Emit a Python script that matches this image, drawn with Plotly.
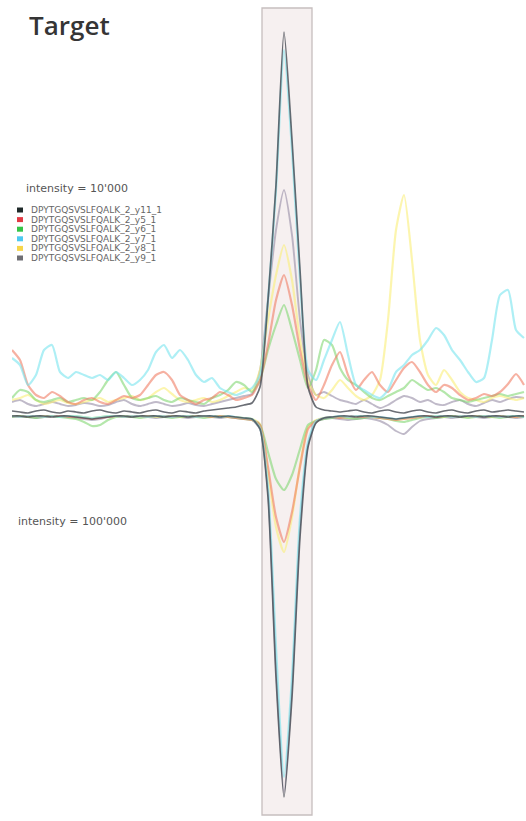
import plotly.graph_objects as go

W, H = 526, 821

# Retention time axis (min), one scan every 0.1 min
rt = [round(21.0 + 0.1 * k, 1) for k in range(65)]

# Peak integration window (min)
window = (24.125, 24.75)

# Transition labels
transitions = [
    "DPYTGQSVSLFQALK_2_y11_1",
    "DPYTGQSVSLFQALK_2_y5_1",
    "DPYTGQSVSLFQALK_2_y6_1",
    "DPYTGQSVSLFQALK_2_y7_1",
    "DPYTGQSVSLFQALK_2_y8_1",
    "DPYTGQSVSLFQALK_2_y9_1",
]

# Target chromatograms (upper panel, scale 10'000)
target_y11 = [100, 75, 50, 100, 125, 75, 50, 100, 75, 50,
              100, 125, 75, 50, 100, 75, 50, 100, 125, 75,
              50, 100, 75, 50, 100, 125, 150, 175, 200, 250,
              300, 700, 2875, 5750, 9575, 6875, 3625, 700, 200, 125,
              100, 75, 100, 125, 75, 50, 100, 125, 75, 50,
              100, 125, 75, 50, 100, 125, 75, 50, 100, 125,
              75, 100, 125, 100, 75]
target_y5 = [1625, 1375, 750, 500, 425, 575, 475, 325, 275, 375,
             425, 325, 275, 375, 475, 425, 500, 750, 1000, 1075,
             875, 500, 375, 275, 375, 425, 575, 500, 375, 425,
             500, 875, 1750, 2875, 3500, 2750, 1625, 750, 375, 750,
             1250, 1575, 1000, 625, 875, 1075, 750, 575, 875, 1175,
             1325, 1075, 750, 575, 750, 675, 500, 375, 425, 525,
             475, 575, 775, 1025, 750]
target_y6 = [425, 625, 575, 375, 325, 375, 425, 325, 375, 425,
             375, 575, 875, 1075, 750, 425, 375, 425, 475, 375,
             325, 425, 375, 325, 275, 425, 500, 625, 825, 750,
             575, 875, 1625, 2250, 2750, 2125, 1375, 675, 1125, 1875,
             1750, 1175, 875, 750, 575, 425, 375, 475, 575, 675,
             875, 750, 625, 675, 575, 425, 375, 325, 375, 425,
             475, 525, 475, 525, 575]
target_y7 = [1425, 1250, 750, 1000, 1625, 1750, 1075, 925, 1075, 1000,
             925, 1000, 875, 1075, 925, 750, 875, 1125, 1575, 1750,
             1425, 1625, 1375, 1000, 825, 925, 675, 575, 500, 575,
             675, 1000, 2875, 5625, 9125, 6625, 3375, 1125, 875, 1375,
             1875, 2325, 1500, 750, 625, 500, 425, 625, 1075, 1250,
             1500, 1625, 1875, 2175, 2000, 1625, 1375, 1075, 825, 925,
             1875, 3000, 3125, 2125, 1925]
target_y8 = [375, 425, 500, 375, 275, 325, 375, 300, 275, 325,
             375, 425, 325, 375, 425, 475, 375, 425, 575, 675,
             525, 375, 325, 375, 425, 325, 375, 475, 575, 675,
             625, 1125, 2375, 3500, 4250, 3375, 1875, 875, 500, 425,
             625, 875, 675, 475, 375, 500, 875, 2375, 4625, 5500,
             3875, 1875, 1000, 750, 1125, 875, 575, 425, 375, 325,
             425, 475, 425, 375, 425]
target_y9 = [325, 375, 275, 225, 275, 325, 275, 225, 250, 300,
             275, 225, 250, 325, 375, 275, 225, 275, 325, 275,
             225, 250, 300, 250, 225, 275, 325, 375, 425, 475,
             525, 1125, 2875, 4625, 5625, 4500, 2375, 1000, 500, 575,
             475, 375, 325, 275, 375, 275, 175, 250, 375, 475,
             425, 325, 375, 275, 250, 325, 375, 275, 225, 300,
             375, 325, 400, 450, 425]

# Reference chromatograms (lower panel, mirrored, scale 100'000)
ref_y11 = [250, 250, 500, 250, 250, 500, 250, 250, 500, 750,
           1000, 750, 500, 250, 250, 500, 250, 250, 250, 500,
           250, 250, 500, 250, 250, 250, 500, 250, 500, 750,
           1000, 3500, 20500, 65500, 95500, 70500, 30500, 8000, 2000, 750,
           500, 250, 250, 500, 250, 250, 500, 750, 1000, 750,
           500, 250, 250, 500, 250, 250, 500, 250, 250, 500,
           250, 250, 500, 250, 250]
ref_y5 = [250, 500, 250, 250, 500, 250, 250, 500, 500, 750,
          1000, 750, 500, 250, 500, 250, 250, 500, 250, 250,
          500, 250, 250, 500, 250, 500, 250, 500, 750, 1000,
          1250, 2500, 13000, 25500, 31750, 24250, 13000, 3500, 1500, 750,
          500, 750, 500, 250, 500, 500, 750, 1000, 1250, 1000,
          750, 500, 250, 500, 250, 500, 250, 250, 500, 250,
          250, 500, 250, 500, 250]
ref_y6 = [500, 250, 500, 750, 500, 250, 500, 750, 1000, 1750,
          2750, 2500, 1250, 500, 250, 500, 750, 500, 250, 500,
          750, 500, 250, 500, 750, 500, 250, 500, 750, 1000,
          1250, 2500, 9250, 16000, 18750, 15000, 8500, 2500, 1500, 1000,
          750, 500, 750, 1000, 750, 500, 750, 1000, 1500, 1750,
          1250, 750, 500, 750, 500, 250, 500, 750, 500, 250,
          500, 750, 500, 250, 500]
ref_y7 = [250, 500, 250, 250, 500, 250, 500, 250, 250, 500,
          750, 500, 250, 250, 500, 250, 250, 500, 250, 250,
          500, 250, 250, 500, 250, 250, 500, 250, 500, 750,
          1000, 3250, 18000, 58000, 90500, 65500, 25500, 6750, 1500, 750,
          500, 250, 500, 250, 250, 500, 500, 750, 1000, 750,
          500, 250, 500, 250, 250, 500, 250, 250, 500, 250,
          250, 500, 250, 250, 500]
ref_y8 = [250, 250, 500, 250, 250, 250, 500, 250, 250, 500,
          750, 500, 250, 250, 500, 250, 250, 250, 500, 250,
          250, 500, 250, 250, 250, 500, 250, 500, 500, 750,
          1000, 2250, 14250, 28000, 34250, 25500, 12500, 3000, 1250, 750,
          500, 500, 750, 500, 250, 500, 750, 1000, 1250, 1000,
          750, 500, 250, 250, 500, 250, 250, 500, 250, 250,
          500, 250, 250, 500, 250]
ref_y9 = [500, 250, 500, 750, 500, 250, 500, 500, 750, 1000,
          1250, 1000, 500, 250, 500, 500, 250, 500, 750, 500,
          250, 500, 750, 500, 250, 500, 750, 500, 750, 1000,
          1250, 3500, 19250, 63000, 94250, 68000, 28000, 7500, 1750, 1000,
          750, 1000, 1250, 1000, 750, 1000, 1500, 2500, 4000, 4750,
          3000, 1500, 1000, 750, 500, 750, 500, 250, 500, 750,
          500, 250, 500, 750, 500]

targets = [target_y11, target_y5, target_y6, target_y7, target_y8, target_y9]
references = [ref_y11, ref_y5, ref_y6, ref_y7, ref_y8, ref_y9]

# line colours (traces are drawn semi-transparent) and legend swatch colours
line_colors = ["rgba(70,74,82,0.8)", "rgba(240,125,100,0.6)", "rgba(130,215,115,0.6)",
               "rgba(120,228,238,0.6)", "rgba(250,238,120,0.6)", "rgba(150,140,165,0.6)"]
swatch_colors = ["#1f2a2a", "#e23a44", "#34c447", "#4cc9f0", "#f7d64a", "#6f6f74"]
line_widths = [1.7, 2.2, 2.2, 2.2, 2.2, 1.9]

# drawing order: black drawn last so it sits on top
order = [5, 4, 2, 1, 3, 0]

fig = go.Figure()
for k in order:
    fig.add_trace(go.Scatter(x=rt, y=targets[k], mode="lines", name=transitions[k],
                             line=dict(color=line_colors[k], width=line_widths[k],
                                       shape="spline", smoothing=0.6),
                             yaxis="y", showlegend=False, hoverinfo="skip"))
for k in order:
    fig.add_trace(go.Scatter(x=rt, y=references[k], mode="lines", name=transitions[k],
                             line=dict(color=line_colors[k], width=line_widths[k],
                                       shape="spline", smoothing=0.6),
                             yaxis="y2", showlegend=False, hoverinfo="skip"))


def py(px):
    """pixel row -> paper y"""
    return (H - px) / H


def pxx(px):
    """pixel column -> paper x"""
    return px / W


shapes = [
    dict(type="rect", xref="x", yref="paper", x0=window[0], x1=window[1],
         y0=py(815), y1=py(8), fillcolor="#f6f0f0",
         line=dict(color="#c6bebe", width=1.3), layer="below"),
]

annotations = [
    dict(text="Target", xref="paper", yref="paper", x=pxx(27), y=py(25),
         xanchor="left", yanchor="middle", showarrow=False,
         font=dict(family="Open Sans", size=26, color="#353535", weight=600)),
    dict(text="intensity = 10'000", xref="paper", yref="paper", x=pxx(24), y=py(189),
         xanchor="left", yanchor="middle", showarrow=False,
         font=dict(family="DejaVu Sans", size=11, color="#555555")),
    dict(text="intensity = 100'000", xref="paper", yref="paper", x=pxx(16), y=py(521),
         xanchor="left", yanchor="middle", showarrow=False,
         font=dict(family="DejaVu Sans", size=11, color="#555555")),
]

row0, row_step = 210, 9.6
for k, label in enumerate(transitions):
    yc = row0 + k * row_step
    shapes.append(dict(type="rect", xref="paper", yref="paper",
                       x0=pxx(17), x1=pxx(23), y0=py(yc + 2.5), y1=py(yc - 2.5),
                       fillcolor=swatch_colors[k], line=dict(width=0)))
    annotations.append(dict(text=label, xref="paper", yref="paper", x=pxx(29), y=py(yc),
                            xanchor="left", yanchor="middle", showarrow=False,
                            font=dict(family="DejaVu Sans", size=9, color="#666666")))

fig.update_layout(
    width=W, height=H,
    margin=dict(l=0, r=0, t=0, b=0),
    paper_bgcolor="white", plot_bgcolor="rgba(0,0,0,0)",
    showlegend=False,
    xaxis=dict(domain=[pxx(12), 1], range=[21.0, 27.425], visible=False),
    yaxis=dict(domain=[py(415), py(15)], range=[0, 10000], visible=False),
    yaxis2=dict(domain=[py(815), py(415)], range=[100000, 0], visible=False),
    shapes=shapes,
    annotations=annotations,
)

fig.write_html("out.html", config={"displayModeBar": False})
